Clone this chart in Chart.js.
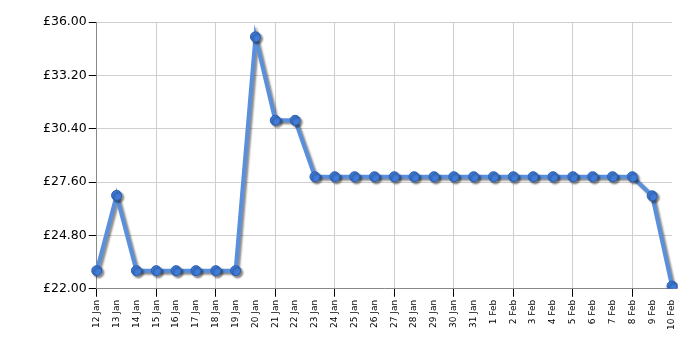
<!DOCTYPE html>
<html>
<head>
<meta charset="utf-8">
<script src="https://cdn.jsdelivr.net/npm/chart.js@4/dist/chart.umd.min.js"></script>
<style>
  html, body { margin: 0; padding: 0; background: #fff; }
  #wrap { width: 700px; height: 350px; }
</style>
</head>
<body>
<div id="wrap"><canvas id="priceChart"></canvas></div>
<script>
var days = ["12 Jan", "13 Jan", "14 Jan", "15 Jan", "16 Jan", "17 Jan", "18 Jan", "19 Jan", "20 Jan", "21 Jan",
            "22 Jan", "23 Jan", "24 Jan", "25 Jan", "26 Jan", "27 Jan", "28 Jan", "29 Jan", "30 Jan", "31 Jan",
            "1 Feb", "2 Feb", "3 Feb", "4 Feb", "5 Feb", "6 Feb", "7 Feb", "8 Feb", "9 Feb", "10 Feb"]
var prices = [22.95, 26.9, 22.95, 22.95, 22.95, 22.95, 22.95, 22.95, 35.22, 30.84,
              30.84, 27.88, 27.88, 27.88, 27.88, 27.88, 27.88, 27.88, 27.88, 27.88,
              27.88, 27.88, 27.88, 27.88, 27.88, 27.88, 27.88, 27.88, 26.88, 22.14]
var yMin = 22
var yMax = 36
var yStep = 2.8

// soft drop shadow under the line and the dots
var shadowPlugin = {
    id: 'shadow',
    beforeDatasetsDraw: function(chart){
        var ctx = chart.ctx
        ctx.save()
        ctx.shadowColor = 'rgba(0,0,0,0.45)'
        ctx.shadowBlur = 2
        ctx.shadowOffsetX = 2
        ctx.shadowOffsetY = 2
    },
    afterDatasetsDraw: function(chart){
        chart.ctx.restore()
    }
}

var ctx = document.getElementById("priceChart").getContext('2d')
var myChart = new Chart(ctx, {
    type: 'line',
    data: {
        labels: days,
        datasets: [{
            data: prices,
            borderColor: "#5a8fdc",
            borderWidth: 4,
            pointRadius: 5,
            pointBackgroundColor: "#3f7bd8",
            pointBorderColor: "#2c5fb3",
            pointBorderWidth: 1,
            tension: 0,
            fill: false
        }]
    },
    options: {
        responsive: true,
        maintainAspectRatio: false,
        animation: false,
        layout: { padding: { left: 41, right: 28, top: 22, bottom: 17 } },
        plugins: {
            legend: { display: false },
            tooltip: { enabled: false }
        },
        scales: {
            x: {
                offset: false,
                border: { color: '#888', width: 1 },
                grid: {
                    color: function(c){ return c.index % 3 === 0 ? '#cfcfcf' : 'rgba(0,0,0,0)' },
                    tickColor: function(c){ return c.index % 3 === 0 ? '#000' : 'rgba(0,0,0,0)' },
                    tickLength: 8
                },
                ticks: {
                    autoSkip: false,
                    maxRotation: 90,
                    minRotation: 90,
                    padding: 3,
                    color: '#000',
                    font: { family: 'DejaVu Sans', size: 9 }
                }
            },
            y: {
                min: yMin,
                max: yMax,
                border: { color: '#888', width: 1 },
                grid: { color: '#cfcfcf', tickColor: '#000', tickLength: 8 },
                ticks: {
                    stepSize: yStep,
                    padding: 2,
                    color: '#000',
                    font: { family: 'DejaVu Sans', size: 12.5 },
                    callback: function(v){ return '£' + v.toFixed(2) }
                }
            }
        }
    },
    plugins: [shadowPlugin]
})
</script>
</body>
</html>
